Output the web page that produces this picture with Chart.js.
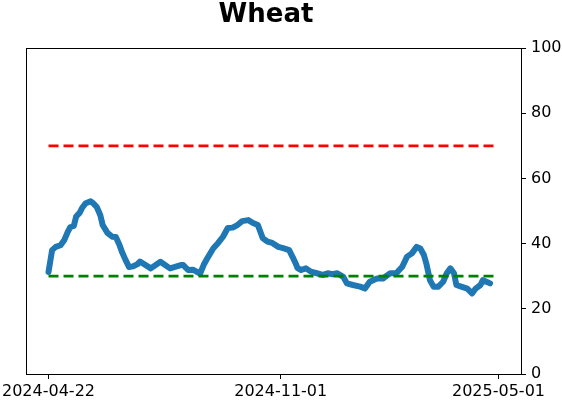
<!DOCTYPE html>
<html>
<head>
<meta charset="utf-8">
<script src="https://cdn.jsdelivr.net/npm/chart.js@4"></script>
<style>
  body { margin: 0; background: #fff; }
  #wrap { width: 562px; height: 402px; }
</style>
</head>
<body>
<div id="wrap"><canvas id="wheat" width="562" height="402"></canvas></div>
<script>
const ctxWheat = document.getElementById("wheat");

// days since 2024-04-22 and the plotted reading
const startDate = '2024-04-22';
const wheatDays = [0, 3, 6, 10, 13, 16, 18, 21, 23, 26, 28, 31, 35, 37, 40, 43, 45, 49, 53, 56,
    59, 61, 64, 67, 70, 74, 76, 85, 93, 101, 110, 112, 116, 120, 126, 129, 132, 137, 141, 145,
    149, 153, 157, 161, 166, 170, 174, 178, 182, 186, 191, 195, 200, 203, 206, 207, 210, 214, 218, 223,
    228, 232, 236, 240, 245, 248, 253, 259, 263, 267, 273, 278, 282, 284, 289, 294, 298, 302, 306, 309,
    312, 314, 317, 320, 324, 328, 331, 334, 337, 339, 343, 348, 352, 355, 359, 361, 364, 367];
const wheatValues = [31.3, 38, 39, 39.5, 41, 43.6, 45, 45.4, 48.3, 49.5, 51, 52.4, 53, 52.4, 51.3, 48.8, 45.7, 43.3, 42.1, 42,
    39.6, 37.5, 35, 32.8, 33, 33.7, 34.5, 32.4, 34.4, 32.4, 33.4, 33.4, 31.9, 32, 30.8, 33.5, 35.5, 38.6, 40.2, 42.1,
    44.8, 44.9, 45.7, 46.9, 47.2, 46.3, 45.7, 41.7, 40.6, 40.2, 39, 38.6, 38, 35.8, 33.4, 32.5, 31.9, 32.4, 31.4, 30.9,
    30.4, 30.9, 30.6, 30.9, 29.8, 27.8, 27.3, 26.8, 26.2, 28.3, 29.3, 29.3, 30.4, 30.9, 30.9, 32.9, 36, 37, 39, 38.5,
    36.5, 33.9, 28.8, 26.8, 26.8, 28.3, 30.9, 32.4, 30.9, 27.3, 26.8, 26.2, 24.7, 26.2, 27.3, 28.8, 28.3, 27.8];

const xTickLabels = ['2024-04-22', '2024-11-01', '2025-05-01'];
const yTickValues = [0, 20, 40, 60, 80, 100];
const upperLevel = 70;
const lowerLevel = 30;

const dayOf = (d) => (Date.parse(d) - Date.parse(startDate)) / 86400000;
const xTickDays = xTickLabels.map(dayOf);
const lineStart = xTickDays[0];
const lineEnd = xTickDays[xTickDays.length - 1];
const margin = (lineEnd - lineStart) * 0.05;

const wheatPoints = wheatDays.map((d, i) => ({ x: d, y: wheatValues[i] }));

// title + black frame round the plot, like the original figure
const frame = {
    id: 'frame',
    afterDraw(chart) {
        const { ctx, chartArea: a } = chart;
        ctx.save();
        ctx.strokeStyle = '#000';
        ctx.lineWidth = 1;
        ctx.strokeRect(Math.round(a.left) + 0.5, Math.round(a.top) + 0.5,
            Math.round(a.right - a.left), Math.round(a.bottom - a.top));
        ctx.fillStyle = '#000';
        ctx.font = 'bold 26px "DejaVu Sans"';
        ctx.textAlign = 'center';
        ctx.textBaseline = 'alphabetic';
        ctx.fillText('Wheat', 266, 22);
        ctx.restore();
    }
};

const graphWheat = new Chart(ctxWheat, {
    type: 'line',
    data: {
        datasets: [{
            label: 'upper',
            data: [{ x: lineStart, y: upperLevel }, { x: lineEnd, y: upperLevel }],
            borderColor: '#ff0000',
            borderWidth: 2.8,
            borderDash: [10, 5],
            pointRadius: 0,
        }, {
            label: 'lower',
            data: [{ x: lineStart, y: lowerLevel }, { x: lineEnd, y: lowerLevel }],
            borderColor: '#008000',
            borderWidth: 2.8,
            borderDash: [10, 5],
            pointRadius: 0,
        }, {
            label: 'Wheat',
            data: wheatPoints,
            borderColor: '#1f77b4',
            borderWidth: 6,
            borderJoinStyle: 'round',
            borderCapStyle: 'round',
            pointRadius: 0,
            tension: 0,
        }],
    },
    options: {
        responsive: false,
        animation: false,
        layout: { padding: { top: 48, left: 26, right: 0, bottom: 0 } },
        plugins: {
            legend: { display: false },
            tooltip: { enabled: false },
        },
        scales: {
            x: {
                type: 'linear',
                min: lineStart - margin,
                max: lineEnd + margin,
                afterBuildTicks: (scale) => {
                    scale.ticks = xTickDays.map(v => ({ value: v }));
                },
                afterFit: (scale) => {
                    scale.height = 28;
                    scale.paddingLeft = 0;
                    scale.paddingRight = 0;
                },
                ticks: {
                    autoSkip: false,
                    maxRotation: 0,
                    padding: 3,
                    color: '#000',
                    font: { family: 'DejaVu Sans', size: 16 },
                    callback: (v) => xTickLabels[xTickDays.indexOf(v)],
                },
                grid: { drawOnChartArea: false, tickLength: 5, color: '#000' },
                border: { color: '#000' },
            },
            y: {
                position: 'right',
                min: 0,
                max: 100,
                afterBuildTicks: (scale) => {
                    scale.ticks = yTickValues.map(v => ({ value: v }));
                },
                afterFit: (scale) => {
                    scale.width = 41;
                    scale.paddingTop = 0;
                    scale.paddingBottom = 0;
                },
                ticks: {
                    padding: 5,
                    color: '#000',
                    font: { family: 'DejaVu Sans', size: 16 },
                },
                grid: { drawOnChartArea: false, tickLength: 5, color: '#000' },
                border: { color: '#000' },
            }
        }
    },
    plugins: [frame]
});
</script>
</body>
</html>
